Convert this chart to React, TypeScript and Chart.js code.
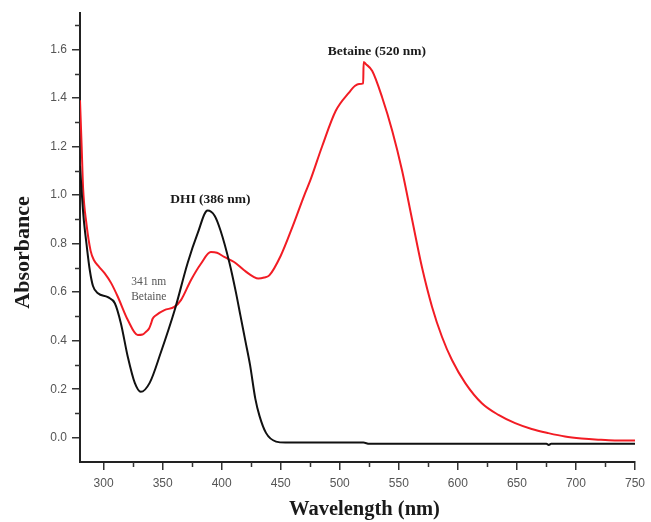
import React, { useEffect, useRef } from "react";
import { Chart, registerables } from "chart.js";

Chart.register(...registerables);

// DHI (black) spectrum
const dhiNm = [280, 282.8, 285.7, 288.3, 291, 295.2, 303.6, 309.5, 314.6, 320.5, 326.4, 331.5, 339, 348.3, 360.2, 371.1, 379.6, 388, 394, 399, 406.6, 412, 416, 420, 424, 428.5, 432, 437.5, 446, 454, 520, 525, 675, 677, 679, 750];
const dhiAbs = [1.12, 0.92, 0.79, 0.69, 0.625, 0.595, 0.579, 0.554, 0.472, 0.333, 0.226, 0.189, 0.226, 0.349, 0.526, 0.719, 0.842, 0.936, 0.915, 0.854, 0.72, 0.6, 0.5, 0.4, 0.3, 0.16, 0.09, 0.02, -0.016, -0.02, -0.02, -0.025, -0.025, -0.03, -0.025, -0.025];

// Betaine (red) spectrum
const betNm = [280, 281.4, 282.6, 285.5, 289, 292, 296, 300.8, 306.4, 312.1, 320.5, 328.9, 333, 335.9, 338.5, 340.2, 341.5, 344.4, 351.5, 359.9, 365.5, 373.9, 382.4, 390.8, 396, 402.1, 410.5, 419, 427.4, 431, 436, 440.3, 450, 460, 470, 475, 485, 496.6, 507.8, 513, 516.3, 519.8, 520.2, 522, 527.5, 535.9, 544.4, 552.8, 561.2, 569.7, 578.1, 586.6, 595, 606.3, 620.3, 634.4, 648.5, 662.5, 676.6, 690.7, 704.7, 718.8, 732.8, 750];
const betAbs = [1.39, 1.2, 1.03, 0.88, 0.77, 0.73, 0.705, 0.678, 0.637, 0.58, 0.485, 0.423, 0.425, 0.437, 0.45, 0.471, 0.49, 0.505, 0.526, 0.539, 0.567, 0.649, 0.717, 0.765, 0.762, 0.745, 0.724, 0.69, 0.662, 0.656, 0.66, 0.669, 0.75, 0.87, 1.0, 1.06, 1.2, 1.347, 1.422, 1.45, 1.457, 1.46, 1.548, 1.54, 1.511, 1.402, 1.265, 1.1, 0.9, 0.7, 0.54, 0.415, 0.32, 0.225, 0.142, 0.094, 0.06, 0.036, 0.019, 0.005, -0.003, -0.008, -0.011, -0.011];

// Axis ticks
const xMajorTicks = [300, 350, 400, 450, 500, 550, 600, 650, 700, 750];
const xMinorTicks = [325, 375, 425, 475, 525, 575, 625, 675, 725];
const yMajorTicks = [0, 0.2, 0.4, 0.6, 0.8, 1.0, 1.2, 1.4, 1.6];
const yMinorTicks = [0.1, 0.3, 0.5, 0.7, 0.9, 1.1, 1.3, 1.5, 1.7];

// Axis titles
const xTitle = "Wavelength (nm)";
const yTitle = "Absorbance";

// Annotations
const noteText = ["Betaine (520 nm)", "DHI (386 nm)", "341 nm", "Betaine"];
const noteNm = [531.5, 390.4, 338.2, 338.2];
const noteAbs = [1.593, 0.98, 0.642, 0.579];
const noteBold = [true, true, false, false];

const extrasPlugin = {
  id: "extras",
  afterDraw(chart: any) {
    const ctx = chart.ctx;
    const xs = chart.scales.x;
    const ys = chart.scales.y;
    ctx.save();
    ctx.strokeStyle = "#333";
    ctx.lineWidth = 1.5;
    ctx.beginPath();
    for (const v of xMinorTicks) {
      const px = Math.round(xs.getPixelForValue(v)) + 0.5;
      ctx.moveTo(px, ys.bottom);
      ctx.lineTo(px, ys.bottom + 5);
    }
    for (const v of yMinorTicks) {
      const py = Math.round(ys.getPixelForValue(v)) + 0.5;
      ctx.moveTo(xs.left - 5, py);
      ctx.lineTo(xs.left, py);
    }
    ctx.stroke();
    // annotations
    ctx.textAlign = "center";
    ctx.textBaseline = "middle";
    noteText.forEach((t, i) => {
      ctx.font = noteBold[i] ? "bold 13.5px 'Liberation Serif'" : "11.5px 'Liberation Serif'";
      ctx.fillStyle = noteBold[i] ? "#1a1a1a" : "#555";
      ctx.fillText(t, xs.getPixelForValue(noteNm[i]), ys.getPixelForValue(noteAbs[i]));
    });
    // axis titles
    ctx.fillStyle = "#1a1a1a";
    ctx.font = "bold 20.5px 'Liberation Serif'";
    ctx.fillText(xTitle, (xs.left + xs.right) / 2 + 7, xs.bottom - 12);
    ctx.save();
    ctx.translate(23, (ys.top + ys.bottom) / 2 + 15);
    ctx.rotate(-Math.PI / 2);
    ctx.font = "bold 22px 'Liberation Serif'";
    ctx.fillText(yTitle, 0, 0);
    ctx.restore();
    ctx.restore();
  },
};

export default function App() {
  const ref = useRef<HTMLCanvasElement>(null);
  useEffect(() => {
    if (!ref.current) return;
    const chart = new Chart(ref.current, {
      type: "line",
      data: {
        datasets: [
          {
            label: "DHI",
            data: dhiNm.map((x, i) => ({ x, y: dhiAbs[i] })),
            borderColor: "#111111",
            borderWidth: 2,
            pointRadius: 0,
            cubicInterpolationMode: "monotone",
            fill: false,
          },
          {
            label: "Betaine",
            data: betNm.map((x, i) => ({ x, y: betAbs[i] })),
            borderColor: "#f21c24",
            borderWidth: 2,
            pointRadius: 0,
            cubicInterpolationMode: "monotone",
            fill: false,
          },
        ],
      },
      options: {
        animation: false,
        responsive: false,
        maintainAspectRatio: false,
        layout: { padding: { top: 13, right: 14, left: 0, bottom: 0 } },
        plugins: { legend: { display: false }, tooltip: { enabled: false } },
        scales: {
          x: {
            type: "linear",
            min: 280,
            max: 750,
            afterBuildTicks: (s: any) => {
              s.ticks = xMajorTicks.map((v) => ({ value: v }));
            },
            afterFit: (s: any) => {
              s.height = 60;
            },
            grid: { drawOnChartArea: false, drawTicks: true, tickLength: 8, color: "#333", lineWidth: 1.5 },
            border: { display: true, color: "#222", width: 2 },
            ticks: {
              color: "#555",
              font: { family: "'Liberation Sans'", size: 12 },
              padding: 6,
              maxRotation: 0,
              autoSkip: false,
              callback: (v: any) => String(v),
            },
          },
          y: {
            type: "linear",
            min: -0.1,
            max: 1.75,
            afterBuildTicks: (s: any) => {
              s.ticks = yMajorTicks.map((v) => ({ value: v }));
            },
            afterFit: (s: any) => {
              s.width = 80;
            },
            grid: { drawOnChartArea: false, drawTicks: true, tickLength: 8, color: "#333", lineWidth: 1.5 },
            border: { display: true, color: "#222", width: 2 },
            ticks: {
              color: "#555",
              font: { family: "'Liberation Sans'", size: 12 },
              padding: 5,
              autoSkip: false,
              callback: (v: any) => Number(v).toFixed(1),
            },
          },
        },
      },
      plugins: [extrasPlugin],
    } as any);
    return () => chart.destroy();
  }, []);
  return (
    <div style={{ position: "absolute", left: 0, top: 0, width: 651, height: 522, background: "#fff" }}>
      <canvas ref={ref} width={651} height={522} style={{ width: 651, height: 522 }} />
    </div>
  );
}
